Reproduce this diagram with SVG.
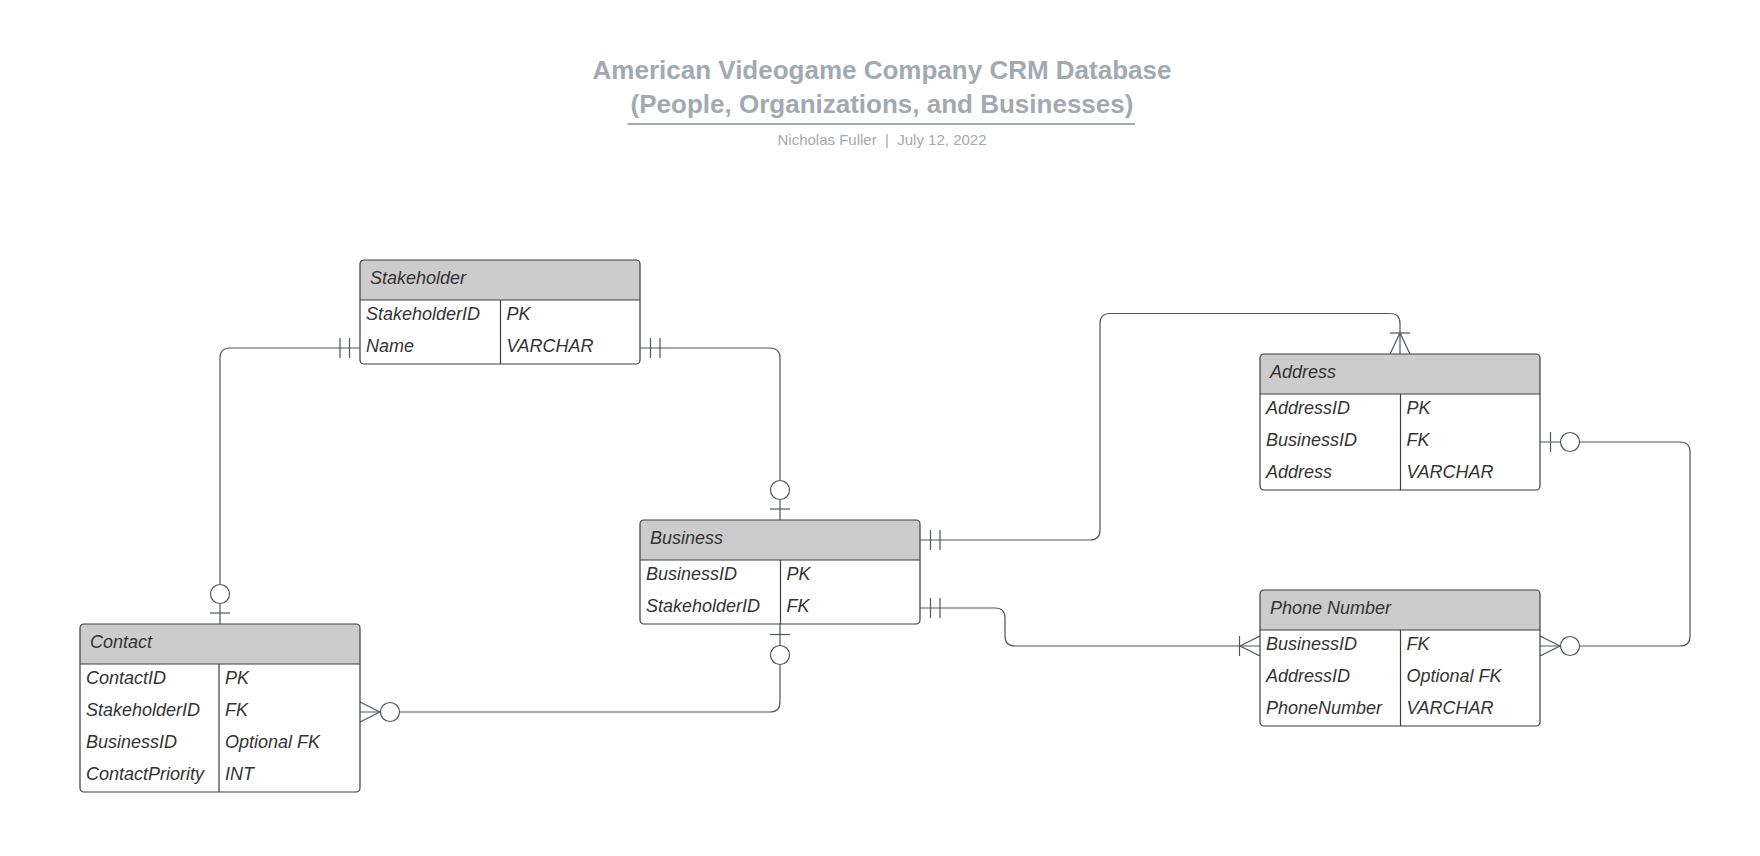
<svg xmlns="http://www.w3.org/2000/svg" width="1760" height="856" viewBox="0 0 1760 856">
<style>
  .title{font-family:"Liberation Sans",Arial,sans-serif;font-weight:bold;font-size:26px;fill:#a3a9b3;text-anchor:middle}
  .sub{font-family:"Liberation Sans",Arial,sans-serif;font-size:15px;fill:#a3a9b3;text-anchor:middle;white-space:pre}
  .hdr{fill:#cccccc;stroke:none}
  .box{fill:none;stroke:#3a3f47;stroke-width:1.2}
  .ln{stroke:#3a3f47;stroke-width:1.2}
  .hd{font-family:"Liberation Sans",Arial,sans-serif;font-style:italic;font-size:18px;fill:#333333}
  .tx{font-family:"Liberation Sans",Arial,sans-serif;font-style:italic;font-size:18px;fill:#333333}
  .conn path,.conn line{fill:none;stroke:#4f5562;stroke-width:1.2}
  .conn circle{fill:#ffffff;stroke:#4f5562;stroke-width:1.2}
</style>
<rect width="1760" height="856" fill="#ffffff"/>

<g id="title">
  <text class="title" x="882" y="79">American Videogame Company CRM Database</text>
  <text class="title" x="882" y="113">(People, Organizations, and Businesses)</text>
  <line x1="627.5" y1="124" x2="1135" y2="124" stroke="#a3a9b3" stroke-width="2"/>
  <text class="sub" x="882" y="145">Nicholas Fuller  |  July 12, 2022</text>
</g>

<g class="conn" id="connectors">
  <!-- Stakeholder - Contact -->
  <path d="M360,348 H230 Q220,348 220,358 V624"/>
  <line x1="340" y1="338" x2="340" y2="358"/>
  <line x1="349.5" y1="338" x2="349.5" y2="358"/>
  <line x1="210" y1="613" x2="230" y2="613"/>
  <circle cx="220" cy="594" r="9.5"/>
  <!-- Stakeholder - Business -->
  <path d="M640,348 H770 Q780,348 780,358 V520"/>
  <line x1="650.5" y1="338" x2="650.5" y2="358"/>
  <line x1="660" y1="338" x2="660" y2="358"/>
  <line x1="770" y1="509" x2="790" y2="509"/>
  <circle cx="780" cy="490" r="9.5"/>
  <!-- Contact - Business -->
  <path d="M360,712 H770 Q780,712 780,702 V624"/>
  <path d="M360,702 L380,712 L360,722"/>
  <circle cx="390" cy="712" r="9.5"/>
  <line x1="770" y1="634.5" x2="790" y2="634.5"/>
  <circle cx="780" cy="655" r="9.5"/>
  <!-- Business - Address -->
  <path d="M920,540 H1090 Q1100,540 1100,530 V323.5 Q1100,313.5 1110,313.5 H1390 Q1400,313.5 1400,323.5 V354"/>
  <line x1="930.5" y1="530" x2="930.5" y2="550"/>
  <line x1="940" y1="530" x2="940" y2="550"/>
  <line x1="1390" y1="333" x2="1410" y2="333"/>
  <path d="M1390,354 L1400,333 L1410,354"/>
  <!-- Business - Phone Number -->
  <path d="M920,608 H995 Q1005,608 1005,618 V636 Q1005,646 1015,646 H1260"/>
  <line x1="930.5" y1="598" x2="930.5" y2="618"/>
  <line x1="940" y1="598" x2="940" y2="618"/>
  <line x1="1239.5" y1="636" x2="1239.5" y2="656"/>
  <path d="M1260,636 L1240,646 L1260,656"/>
  <!-- Address - Phone Number -->
  <path d="M1540,442 H1680 Q1690,442 1690,452 V636 Q1690,646 1680,646 H1540"/>
  <line x1="1550.5" y1="432" x2="1550.5" y2="452"/>
  <circle cx="1570" cy="442" r="9.5"/>
  <path d="M1540,636 L1560,646 L1540,656"/>
  <circle cx="1570" cy="646" r="9.5"/>
</g>

<g id="stakeholder" transform="translate(360,260)">
  <path class="hdr" d="M0,40 V4 Q0,0 4,0 H276 Q280,0 280,4 V40 Z"/>
  <rect class="box" x="0" y="0" width="280" height="104" rx="4"/>
  <line class="ln" x1="0" y1="40" x2="280" y2="40"/>
  <line class="ln" x1="140.5" y1="40" x2="140.5" y2="104"/>
  <text class="hd" x="10" y="24">Stakeholder</text>
  <text class="tx" x="6" y="60">StakeholderID</text>
  <text class="tx" x="146.5" y="60">PK</text>
  <text class="tx" x="6" y="92">Name</text>
  <text class="tx" x="146.5" y="92">VARCHAR</text>
</g>

<g id="business" transform="translate(640,520)">
  <path class="hdr" d="M0,40 V4 Q0,0 4,0 H276 Q280,0 280,4 V40 Z"/>
  <rect class="box" x="0" y="0" width="280" height="104" rx="4"/>
  <line class="ln" x1="0" y1="40" x2="280" y2="40"/>
  <line class="ln" x1="140.5" y1="40" x2="140.5" y2="104"/>
  <text class="hd" x="10" y="24">Business</text>
  <text class="tx" x="6" y="60">BusinessID</text>
  <text class="tx" x="146.5" y="60">PK</text>
  <text class="tx" x="6" y="92">StakeholderID</text>
  <text class="tx" x="146.5" y="92">FK</text>
</g>

<g id="contact" transform="translate(80,624)">
  <path class="hdr" d="M0,40 V4 Q0,0 4,0 H276 Q280,0 280,4 V40 Z"/>
  <rect class="box" x="0" y="0" width="280" height="168" rx="4"/>
  <line class="ln" x1="0" y1="40" x2="280" y2="40"/>
  <line class="ln" x1="139" y1="40" x2="139" y2="168"/>
  <text class="hd" x="10" y="24">Contact</text>
  <text class="tx" x="6" y="60">ContactID</text>
  <text class="tx" x="145" y="60">PK</text>
  <text class="tx" x="6" y="92">StakeholderID</text>
  <text class="tx" x="145" y="92">FK</text>
  <text class="tx" x="6" y="124">BusinessID</text>
  <text class="tx" x="145" y="124">Optional FK</text>
  <text class="tx" x="6" y="156">ContactPriority</text>
  <text class="tx" x="145" y="156">INT</text>
</g>

<g id="address" transform="translate(1260,354)">
  <path class="hdr" d="M0,40 V4 Q0,0 4,0 H276 Q280,0 280,4 V40 Z"/>
  <rect class="box" x="0" y="0" width="280" height="136" rx="4"/>
  <line class="ln" x1="0" y1="40" x2="280" y2="40"/>
  <line class="ln" x1="140.5" y1="40" x2="140.5" y2="136"/>
  <text class="hd" x="10" y="24">Address</text>
  <text class="tx" x="6" y="60">AddressID</text>
  <text class="tx" x="146.5" y="60">PK</text>
  <text class="tx" x="6" y="92">BusinessID</text>
  <text class="tx" x="146.5" y="92">FK</text>
  <text class="tx" x="6" y="124">Address</text>
  <text class="tx" x="146.5" y="124">VARCHAR</text>
</g>

<g id="phone-number" transform="translate(1260,590)">
  <path class="hdr" d="M0,40 V4 Q0,0 4,0 H276 Q280,0 280,4 V40 Z"/>
  <rect class="box" x="0" y="0" width="280" height="136" rx="4"/>
  <line class="ln" x1="0" y1="40" x2="280" y2="40"/>
  <line class="ln" x1="140.5" y1="40" x2="140.5" y2="136"/>
  <text class="hd" x="10" y="24">Phone Number</text>
  <text class="tx" x="6" y="60">BusinessID</text>
  <text class="tx" x="146.5" y="60">FK</text>
  <text class="tx" x="6" y="92">AddressID</text>
  <text class="tx" x="146.5" y="92">Optional FK</text>
  <text class="tx" x="6" y="124">PhoneNumber</text>
  <text class="tx" x="146.5" y="124">VARCHAR</text>
</g>
</svg>
